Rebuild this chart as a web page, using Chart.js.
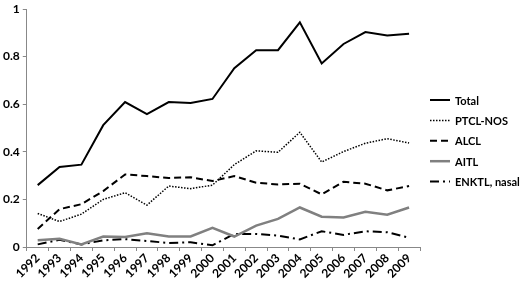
<!DOCTYPE html>
<html>
<head>
<meta charset="utf-8">
<script src="https://cdn.jsdelivr.net/npm/chart.js@4"></script>
<style>
  html, body { margin: 0; padding: 0; background: #fff; }
  #wrap { width: 520px; height: 282px; }
</style>
</head>
<body>
<div id="wrap"><canvas id="myChart" width="520" height="282"></canvas></div>
<script>
const years = ['1992','1993','1994','1995','1996','1997','1998','1999','2000','2001','2002','2003','2004','2005','2006','2007','2008','2009'];
const total = [0.26,0.336,0.346,0.512,0.609,0.558,0.609,0.605,0.622,0.751,0.827,0.827,0.944,0.771,0.853,0.903,0.889,0.896];
const ptclNos = [0.141,0.107,0.138,0.2,0.228,0.176,0.256,0.245,0.26,0.346,0.404,0.398,0.482,0.357,0.401,0.436,0.455,0.437];
const alcl = [0.076,0.159,0.18,0.235,0.305,0.298,0.29,0.293,0.277,0.298,0.27,0.263,0.266,0.221,0.274,0.266,0.238,0.256];
const aitl = [0.028,0.035,0.011,0.044,0.042,0.058,0.044,0.044,0.08,0.044,0.09,0.118,0.166,0.127,0.124,0.148,0.136,0.166];
const enktl = [0.011,0.03,0.011,0.028,0.033,0.025,0.017,0.02,0.007,0.055,0.055,0.048,0.032,0.066,0.051,0.066,0.062,0.039];
const yTicks = [0, 0.2, 0.4, 0.6, 0.8, 1];

const FONT = 'Lato, "Liberation Sans", sans-serif';

// legend drawn by hand so the line styles show as short strokes
const sideLegend = {
    id: 'sideLegend',
    afterDraw(chart) {
        const ctx = chart.ctx;
        const x0 = 430, x1 = 450, yStart = 100, step = 20.4;
        ctx.save();
        ctx.font = 'bold 11px ' + FONT;
        ctx.textBaseline = 'middle';
        chart.data.datasets.forEach((ds, i) => {
            const y = yStart + i * step;
            ctx.beginPath();
            ctx.strokeStyle = ds.borderColor;
            ctx.lineWidth = ds.borderWidth;
            ctx.setLineDash(ds.borderDash || []);
            ctx.moveTo(x0, y);
            ctx.lineTo(x1, y);
            ctx.stroke();
            ctx.setLineDash([]);
            ctx.fillStyle = '#000';
            ctx.fillText(ds.label, 455, y + 1);
        });
        ctx.restore();
    }
};

const ctx = document.getElementById('myChart').getContext('2d');
new Chart(ctx, {
    type: 'line',
    data: {
        labels: years,
        datasets: [
            { label: 'Total', data: total, borderColor: '#000', borderWidth: 2, pointRadius: 0, fill: false },
            { label: 'PTCL-NOS', data: ptclNos, borderColor: '#000', borderWidth: 1.5, borderDash: [1.5, 1.5], pointRadius: 0, fill: false },
            { label: 'ALCL', data: alcl, borderColor: '#000', borderWidth: 2, borderDash: [7, 4], pointRadius: 0, fill: false },
            { label: 'AITL', data: aitl, borderColor: '#808080', borderWidth: 2.5, pointRadius: 0, fill: false },
            { label: 'ENKTL, nasal', data: enktl, borderColor: '#000', borderWidth: 2, borderDash: [9, 4, 2, 4], pointRadius: 0, fill: false }
        ]
    },
    options: {
        responsive: false,
        animation: false,
        layout: { padding: { left: 0, right: 100, top: 0, bottom: 0 } },
        plugins: {
            legend: { display: false },
            tooltip: { enabled: false }
        },
        scales: {
            x: {
                offset: true,
                grid: { display: true, drawOnChartArea: false, drawTicks: true, tickLength: 4, color: '#888', offset: true },
                border: { color: '#888', width: 1 },
                afterFit: axis => { axis.height = 35; },
                ticks: {
                    color: '#000',
                    font: { family: FONT, size: 12, weight: 'bold' },
                    maxRotation: 45, minRotation: 45, autoSkip: false, padding: 0
                }
            },
            y: {
                min: 0, max: 1,
                afterBuildTicks: axis => { axis.ticks = yTicks.map(v => ({ value: v })); },
                grid: { display: true, drawOnChartArea: false, drawTicks: true, tickLength: 4, color: '#888' },
                border: { color: '#888', width: 1 },
                ticks: {
                    color: '#000',
                    font: { family: FONT, size: 12, weight: 'bold', lineHeight: 1 },
                    padding: 3,
                    callback: v => String(v)
                }
            }
        }
    },
    plugins: [sideLegend]
});
</script>
</body>
</html>
